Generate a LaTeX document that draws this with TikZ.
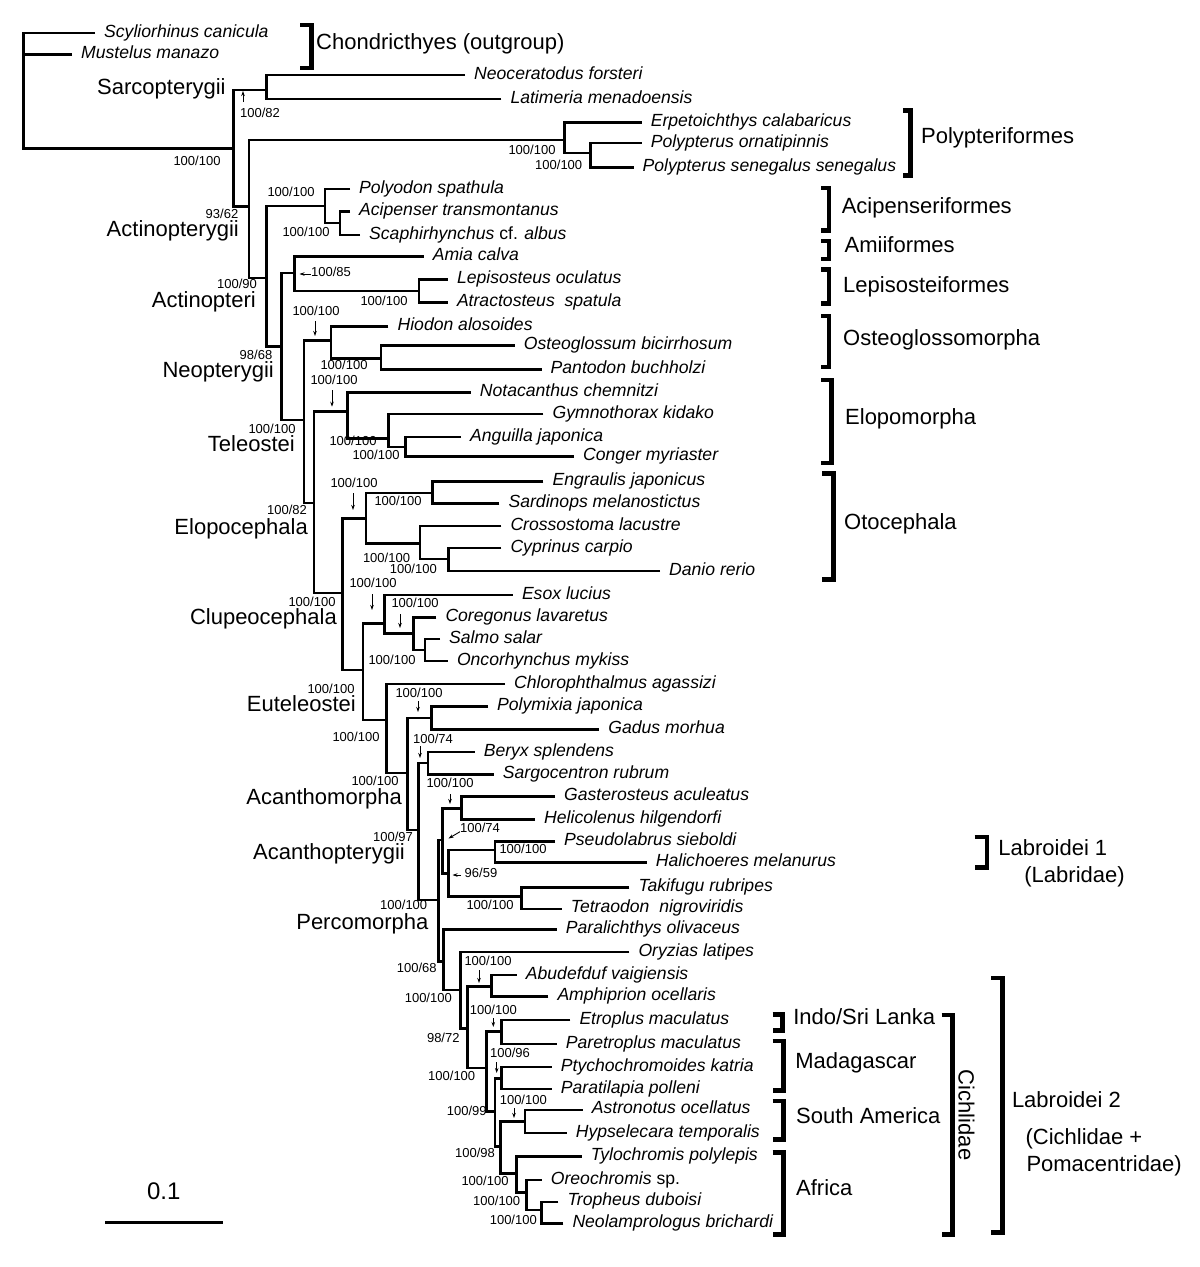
\documentclass[tikz,border=0pt]{standalone}
\usepackage{fontspec}
\setmainfont{Liberation Sans}
\usetikzlibrary{arrows.meta}
\begin{document}
\begin{tikzpicture}[x=1pt,y=-1pt,
  branch/.style={line width=2.5pt, line join=miter},
  brk/.style={line width=4.6pt, line join=miter},
  tipl/.style={anchor=mid west, inner sep=0pt, xshift=9pt, yshift=-1.5pt, font=\fontsize{17.6}{17.6}\selectfont\itshape},
  bs/.style={anchor=mid, inner sep=0pt, font=\fontsize{13}{13}\selectfont},
  clade/.style={anchor=mid east, inner sep=0pt, yshift=-2pt, font=\fontsize{22}{22}\selectfont},
  grp/.style={anchor=mid west, inner sep=0pt, font=\fontsize{22}{22}\selectfont},
  sarr/.style={-{Stealth[length=5pt,width=3.5pt]}, line width=0.9pt}]
\useasboundingbox (0,0) rectangle (1200,1267);
\fill[white] (0,0) rectangle (1200,1267);

% ---------- internal nodes ----------
\coordinate (R) at (23.5,90);
\coordinate (Ost) at (233.4,148.3);
\coordinate (Sarc) at (266.7,90);
\coordinate (Actg) at (248.8,206.7);
\coordinate (Poly) at (564.5,140);
\coordinate (PP) at (590.6,153);
\coordinate (Acti) at (266.7,278);
\coordinate (Acip) at (325,206);
\coordinate (AS) at (340,223);
\coordinate (Neop) at (281.3,346.7);
\coordinate (Hol) at (294.7,273);
\coordinate (Lep) at (419,291);
\coordinate (Tel) at (304.2,420);
\coordinate (Ost2) at (331,340.7);
\coordinate (OP) at (380.8,358.3);
\coordinate (Elc) at (313.8,503);
\coordinate (Elo) at (347.5,411.7);
\coordinate (Ang) at (388.4,438.3);
\coordinate (AC) at (405.7,447);
\coordinate (Clu) at (342.5,593);
\coordinate (Oto) at (366.2,518.3);
\coordinate (Clf) at (432.5,493);
\coordinate (Osf) at (419.8,543.3);
\coordinate (CD) at (448.5,559);
\coordinate (Eut) at (362.8,670);
\coordinate (Pro) at (384.6,623.3);
\coordinate (Sal) at (413.3,633.3);
\coordinate (SO) at (424.8,650);
\coordinate (Neo) at (386.5,720);
\coordinate (Acm) at (407.6,773);
\coordinate (PG) at (431.3,718);
\coordinate (Acp) at (418.3,830);
\coordinate (Hc) at (427.9,763);
\coordinate (Per) at (438.3,900);
\coordinate (P1) at (442.7,840);
\coordinate (Gas) at (461.7,808.3);
\coordinate (P2) at (448.3,873.3);
\coordinate (Lab) at (495,850);
\coordinate (Tet) at (521.7,896.7);
\coordinate (P3) at (443.3,961.7);
\coordinate (P4) at (460.7,990);
\coordinate (P5) at (467.3,1028.3);
\coordinate (Pom) at (491.7,986.7);
\coordinate (Cic) at (486.7,1068);
\coordinate (Etr) at (501.7,1031.7);
\coordinate (CA) at (495,1111.7);
\coordinate (Mad) at (501.7,1078.3);
\coordinate (CB) at (500.7,1146.7);
\coordinate (SA) at (525,1121.7);
\coordinate (Afr) at (516.7,1173.3);
\coordinate (Pse) at (526.7,1192.7);
\coordinate (TN) at (541.7,1210);

% ---------- tips ----------
\coordinate (t1) at (95,33);
\coordinate (t2) at (72,54.3);
\coordinate (t3) at (465,75);
\coordinate (t4) at (501.3,99);
\coordinate (t5) at (641.6,122.4);
\coordinate (t6) at (641.6,142.9);
\coordinate (t7) at (633.5,167.3);
\coordinate (t8) at (350,189);
\coordinate (t9) at (350,211.7);
\coordinate (t10) at (360,235);
\coordinate (t11) at (423.6,256.7);
\coordinate (t12) at (447.8,279.3);
\coordinate (t13) at (447.8,302.7);
\coordinate (t14) at (388.4,326.7);
\coordinate (t15) at (514.7,345.7);
\coordinate (t16) at (541.5,369.3);
\coordinate (t17) at (470.7,392.7);
\coordinate (t18) at (543.4,414);
\coordinate (t19) at (461,437);
\coordinate (t20) at (574,456.7);
\coordinate (t21) at (543.4,481.7);
\coordinate (t22) at (499.4,503.3);
\coordinate (t23) at (501.3,526);
\coordinate (t24) at (501.3,548);
\coordinate (t25) at (660,571);
\coordinate (t26) at (512.8,595);
\coordinate (t27) at (436.3,617.7);
\coordinate (t28) at (440,639);
\coordinate (t29) at (447.8,661);
\coordinate (t30) at (505,684);
\coordinate (t31) at (488,706.7);
\coordinate (t32) at (599.2,729.3);
\coordinate (t33) at (474.6,752);
\coordinate (t34) at (493.7,774.7);
\coordinate (t35) at (555,796.6);
\coordinate (t36) at (535,819.3);
\coordinate (t37) at (555,841.6);
\coordinate (t38) at (646.7,862.6);
\coordinate (t39) at (629.3,887.4);
\coordinate (t40) at (561.7,908.8);
\coordinate (t41) at (556.7,929.5);
\coordinate (t42) at (629.3,952.2);
\coordinate (t43) at (516.7,974.9);
\coordinate (t44) at (548.3,996.7);
\coordinate (t45) at (570.3,1020.2);
\coordinate (t46) at (556.7,1044.2);
\coordinate (t47) at (551.7,1066.9);
\coordinate (t48) at (551.7,1089.2);
\coordinate (t49) at (582.7,1109.8);
\coordinate (t50) at (566.7,1132.9);
\coordinate (t51) at (581.7,1156.4);
\coordinate (t52) at (541.7,1179.9);
\coordinate (t53) at (558.3,1201.8);
\coordinate (t54) at (563.3,1223.3);

% ---------- branches ----------
\draw[branch] (t1) -| (R);
\draw[branch] (t2) -| (R);
\draw[branch] (Ost) -| (R);
\draw[branch] (Sarc) -| (Ost);
\draw[branch] (Actg) -| (Ost);
\draw[branch] (t3) -| (Sarc);
\draw[branch] (t4) -| (Sarc);
\draw[branch] (Poly) -| (Actg);
\draw[branch] (Acti) -| (Actg);
\draw[branch] (t5) -| (Poly);
\draw[branch] (PP) -| (Poly);
\draw[branch] (t6) -| (PP);
\draw[branch] (t7) -| (PP);
\draw[branch] (Acip) -| (Acti);
\draw[branch] (Neop) -| (Acti);
\draw[branch] (t8) -| (Acip);
\draw[branch] (AS) -| (Acip);
\draw[branch] (t9) -| (AS);
\draw[branch] (t10) -| (AS);
\draw[branch] (Hol) -| (Neop);
\draw[branch] (Tel) -| (Neop);
\draw[branch] (t11) -| (Hol);
\draw[branch] (Lep) -| (Hol);
\draw[branch] (t12) -| (Lep);
\draw[branch] (t13) -| (Lep);
\draw[branch] (Ost2) -| (Tel);
\draw[branch] (Elc) -| (Tel);
\draw[branch] (t14) -| (Ost2);
\draw[branch] (OP) -| (Ost2);
\draw[branch] (t15) -| (OP);
\draw[branch] (t16) -| (OP);
\draw[branch] (Elo) -| (Elc);
\draw[branch] (Clu) -| (Elc);
\draw[branch] (t17) -| (Elo);
\draw[branch] (Ang) -| (Elo);
\draw[branch] (t18) -| (Ang);
\draw[branch] (AC) -| (Ang);
\draw[branch] (t19) -| (AC);
\draw[branch] (t20) -| (AC);
\draw[branch] (Oto) -| (Clu);
\draw[branch] (Eut) -| (Clu);
\draw[branch] (Clf) -| (Oto);
\draw[branch] (Osf) -| (Oto);
\draw[branch] (t21) -| (Clf);
\draw[branch] (t22) -| (Clf);
\draw[branch] (t23) -| (Osf);
\draw[branch] (CD) -| (Osf);
\draw[branch] (t24) -| (CD);
\draw[branch] (t25) -| (CD);
\draw[branch] (Pro) -| (Eut);
\draw[branch] (Neo) -| (Eut);
\draw[branch] (t26) -| (Pro);
\draw[branch] (Sal) -| (Pro);
\draw[branch] (t27) -| (Sal);
\draw[branch] (SO) -| (Sal);
\draw[branch] (t28) -| (SO);
\draw[branch] (t29) -| (SO);
\draw[branch] (t30) -| (Neo);
\draw[branch] (Acm) -| (Neo);
\draw[branch] (PG) -| (Acm);
\draw[branch] (Acp) -| (Acm);
\draw[branch] (t31) -| (PG);
\draw[branch] (t32) -| (PG);
\draw[branch] (Hc) -| (Acp);
\draw[branch] (Per) -| (Acp);
\draw[branch] (t33) -| (Hc);
\draw[branch] (t34) -| (Hc);
\draw[branch] (P1) -| (Per);
\draw[branch] (P3) -| (Per);
\draw[branch] (Gas) -| (P1);
\draw[branch] (P2) -| (P1);
\draw[branch] (t35) -| (Gas);
\draw[branch] (t36) -| (Gas);
\draw[branch] (Lab) -| (P2);
\draw[branch] (Tet) -| (P2);
\draw[branch] (t37) -| (Lab);
\draw[branch] (t38) -| (Lab);
\draw[branch] (t39) -| (Tet);
\draw[branch] (t40) -| (Tet);
\draw[branch] (t41) -| (P3);
\draw[branch] (P4) -| (P3);
\draw[branch] (t42) -| (P4);
\draw[branch] (P5) -| (P4);
\draw[branch] (Pom) -| (P5);
\draw[branch] (Cic) -| (P5);
\draw[branch] (t43) -| (Pom);
\draw[branch] (t44) -| (Pom);
\draw[branch] (Etr) -| (Cic);
\draw[branch] (CA) -| (Cic);
\draw[branch] (t45) -| (Etr);
\draw[branch] (t46) -| (Etr);
\draw[branch] (Mad) -| (CA);
\draw[branch] (CB) -| (CA);
\draw[branch] (t47) -| (Mad);
\draw[branch] (t48) -| (Mad);
\draw[branch] (SA) -| (CB);
\draw[branch] (Afr) -| (CB);
\draw[branch] (t49) -| (SA);
\draw[branch] (t50) -| (SA);
\draw[branch] (t51) -| (Afr);
\draw[branch] (Pse) -| (Afr);
\draw[branch] (t52) -| (Pse);
\draw[branch] (TN) -| (Pse);
\draw[branch] (t53) -| (TN);
\draw[branch] (t54) -| (TN);

% ---------- tip labels ----------
\node[tipl] (n1) at (t1) {Scyliorhinus canicula};
\node[tipl] (n2) at (t2) {Mustelus manazo};
\node[tipl] (n3) at (t3) {Neoceratodus forsteri};
\node[tipl] (n4) at (t4) {Latimeria menadoensis};
\node[tipl] (n5) at (t5) {Erpetoichthys calabaricus};
\node[tipl] (n6) at (t6) {Polypterus ornatipinnis};
\node[tipl] (n7) at (t7) {Polypterus senegalus senegalus};
\node[tipl] (n8) at (t8) {Polyodon spathula};
\node[tipl] (n9) at (t9) {Acipenser transmontanus};
\node[tipl] (n10) at (t10) {Scaphirhynchus {\upshape cf.} albus};
\node[tipl] (n11) at (t11) {Amia calva};
\node[tipl] (n12) at (t12) {Lepisosteus oculatus};
\node[tipl] (n13) at (t13) {Atractosteus\ \ spatula};
\node[tipl] (n14) at (t14) {Hiodon alosoides};
\node[tipl] (n15) at (t15) {Osteoglossum bicirrhosum};
\node[tipl] (n16) at (t16) {Pantodon buchholzi};
\node[tipl] (n17) at (t17) {Notacanthus chemnitzi};
\node[tipl] (n18) at (t18) {Gymnothorax kidako};
\node[tipl] (n19) at (t19) {Anguilla japonica};
\node[tipl] (n20) at (t20) {Conger myriaster};
\node[tipl] (n21) at (t21) {Engraulis japonicus};
\node[tipl] (n22) at (t22) {Sardinops melanostictus};
\node[tipl] (n23) at (t23) {Crossostoma lacustre};
\node[tipl] (n24) at (t24) {Cyprinus carpio};
\node[tipl] (n25) at (t25) {Danio rerio};
\node[tipl] (n26) at (t26) {Esox lucius};
\node[tipl] (n27) at (t27) {Coregonus lavaretus};
\node[tipl] (n28) at (t28) {Salmo salar};
\node[tipl] (n29) at (t29) {Oncorhynchus mykiss};
\node[tipl] (n30) at (t30) {Chlorophthalmus agassizi};
\node[tipl] (n31) at (t31) {Polymixia japonica};
\node[tipl] (n32) at (t32) {Gadus morhua};
\node[tipl] (n33) at (t33) {Beryx splendens};
\node[tipl] (n34) at (t34) {Sargocentron rubrum};
\node[tipl] (n35) at (t35) {Gasterosteus aculeatus};
\node[tipl] (n36) at (t36) {Helicolenus hilgendorfi};
\node[tipl] (n37) at (t37) {Pseudolabrus sieboldi};
\node[tipl] (n38) at (t38) {Halichoeres melanurus};
\node[tipl] (n39) at (t39) {Takifugu rubripes};
\node[tipl] (n40) at (t40) {Tetraodon\ \ nigroviridis};
\node[tipl] (n41) at (t41) {Paralichthys olivaceus};
\node[tipl] (n42) at (t42) {Oryzias latipes};
\node[tipl] (n43) at (t43) {Abudefduf vaigiensis};
\node[tipl] (n44) at (t44) {Amphiprion ocellaris};
\node[tipl] (n45) at (t45) {Etroplus maculatus};
\node[tipl] (n46) at (t46) {Paretroplus maculatus};
\node[tipl] (n47) at (t47) {Ptychochromoides katria};
\node[tipl] (n48) at (t48) {Paratilapia polleni};
\node[tipl] (n49) at (t49) {Astronotus ocellatus};
\node[tipl] (n50) at (t50) {Hypselecara temporalis};
\node[tipl] (n51) at (t51) {Tylochromis polylepis};
\node[tipl] (n52) at (t52) {Oreochromis {\upshape sp.}};
\node[tipl] (n53) at (t53) {Tropheus duboisi};
\node[tipl] (n54) at (t54) {Neolamprologus brichardi};

% ---------- clade names on the tree ----------
\node[clade] (c1) at (225.8,90) {Sarcopterygii};
\node[clade] (c2) at (239,232) {Actinopterygii};
\node[clade] (c3) at (256,303) {Actinopteri};
\node[clade] (c4) at (274,373) {Neopterygii};
\node[clade] (c5) at (295,447) {Teleostei};
\node[clade] (c6) at (308,530) {Elopocephala};
\node[clade] (c7) at (337,620) {Clupeocephala};
\node[clade] (c8) at (356,707) {Euteleostei};
\node[clade] (c9) at (402,799.5) {Acanthomorpha};
\node[clade] (c10) at (405,855) {Acanthopterygii};
\node[clade] (c11) at (428.6,925) {Percomorpha};

% ---------- support values ----------
\node[bs] (s1) at (260,115) {100/82};
\node[bs] (s2) at (197,163) {100/100};
\node[bs] (s3) at (532,151.7) {100/100};
\node[bs] (s4) at (558.7,166.7) {100/100};
\node[bs] (s5) at (222,216) {93/62};
\node[bs] (s6) at (291,194) {100/100};
\node[bs] (s7) at (306,234) {100/100};
\node[bs] (s8) at (237,286) {100/90};
\node[bs] (s9) at (331,274) {100/85};
\node[bs] (s10) at (384,302.7) {100/100};
\node[bs] (s11) at (316,312.7) {100/100};
\node[bs] (s12) at (256,357) {98/68};
\node[bs] (s13) at (344,366.7) {100/100};
\node[bs] (s14) at (334,381.7) {100/100};
\node[bs] (s15) at (272,431) {100/100};
\node[bs] (s16) at (353,443.3) {100/100};
\node[bs] (s17) at (376,456.7) {100/100};
\node[bs] (s18) at (354,485) {100/100};
\node[bs] (s19) at (287,512) {100/82};
\node[bs] (s20) at (398,503.3) {100/100};
\node[bs] (s21) at (386.5,560) {100/100};
\node[bs] (s22) at (413.3,571) {100/100};
\node[bs] (s23) at (373,585) {100/100};
\node[bs] (s24) at (312,604) {100/100};
\node[bs] (s25) at (415,605) {100/100};
\node[bs] (s26) at (392,661.7) {100/100};
\node[bs] (s27) at (331,690.5) {100/100};
\node[bs] (s28) at (419,695) {100/100};
\node[bs] (s29) at (356,739.3) {100/100};
\node[bs] (s30) at (433,741) {100/74};
\node[bs] (s31) at (375,783) {100/100};
\node[bs] (s32) at (450,785) {100/100};
\node[bs] (s33) at (393,839) {100/97};
\node[bs] (s34) at (480,830) {100/74};
\node[bs] (s35) at (523,850.7) {100/100};
\node[bs] (s36) at (481,875) {96/59};
\node[bs] (s37) at (490,906.7) {100/100};
\node[bs] (s38) at (403.7,907.3) {100/100};
\node[bs] (s39) at (416.7,970) {100/68};
\node[bs] (s40) at (488,963) {100/100};
\node[bs] (s41) at (428.3,1000) {100/100};
\node[bs] (s42) at (493.3,1011.7) {100/100};
\node[bs] (s43) at (443.3,1040) {98/72};
\node[bs] (s44) at (451.7,1078) {100/100};
\node[bs] (s45) at (510,1055) {100/96};
\node[bs] (s46) at (466.7,1113.3) {100/99};
\node[bs] (s47) at (523.3,1101.7) {100/100};
\node[bs] (s48) at (475,1155) {100/98};
\node[bs] (s49) at (485,1183.3) {100/100};
\node[bs] (s50) at (496.7,1203.3) {100/100};
\node[bs] (s51) at (513.3,1221.7) {100/100};

% ---------- small pointer arrows ----------
\draw[sarr] (243,102) -- (243,91);
\draw[sarr] (310.8,274) -- (299.5,274);
\draw[sarr] (315,321) -- (315,336);
\draw[sarr] (332,390) -- (332,406.7);
\draw[sarr] (353,493) -- (353,510);
\draw[sarr] (372,594) -- (372,610);
\draw[sarr] (400,614) -- (400,628);
\draw[sarr] (418,701) -- (418,712);
\draw[sarr] (420,746) -- (420,758);
\draw[sarr] (450,794) -- (450,804);
\draw[sarr] (460,831.7) -- (448.5,838.5);
\draw[sarr] (461,875) -- (452.5,875);
\draw[sarr] (479,970) -- (479,983);
\draw[sarr] (493.3,1018) -- (493.3,1027);
\draw[sarr] (496.7,1062) -- (496.7,1073);
\draw[sarr] (514,1108) -- (514,1118);

% ---------- group brackets ----------
\draw[brk] (300.4,25) -- (311.5,25) -- (311.5,68) -- (300.4,68);
\node[grp] (g1) at (316,46.7) {Chondricthyes (outgroup)};
\draw[brk] (902.9,110.5) -- (910.7,110.5) -- (910.7,175.3) -- (902.9,175.3);
\node[grp] (g2) at (921,140.8) {Polypteriformes};
\draw[brk] (821.2,188) -- (829.1,188) -- (829.1,230.4) -- (821.2,230.4);
\node[grp] (g3) at (841.6,211) {Acipenseriformes};
\draw[brk] (821.2,241.1) -- (829.1,241.1) -- (829.1,258.9) -- (821.2,258.9);
\node[grp] (g4) at (844.5,249.8) {Amiiformes};
\draw[brk] (821.2,269.6) -- (829.1,269.6) -- (829.1,303.7) -- (821.2,303.7);
\node[grp] (g5) at (843,289.8) {Lepisosteiformes};
\draw[brk] (821.2,315.8) -- (829.1,315.8) -- (829.1,367.1) -- (821.2,367.1);
\node[grp] (g6) at (843,342.9) {Osteoglossomorpha};
\draw[brk] (821.2,379.9) -- (831.2,379.9) -- (831.2,463) -- (821.2,463);
\node[grp] (g7) at (845,421.6) {Elopomorpha};
\draw[brk] (822.4,473.7) -- (833.2,473.7) -- (833.2,579.3) -- (822.4,579.3);
\node[grp] (g8) at (844,526.5) {Otocephala};
\draw[brk] (974.7,836.9) -- (986.8,836.9) -- (986.8,867.3) -- (974.7,867.3);
\node[grp] (g9) at (998.2,853.1) {Labroidei 1};
\node[grp] (g10) at (1024.2,880) {(Labridae)};
\draw[brk] (772.5,1014.3) -- (782.6,1014.3) -- (782.6,1030.3) -- (772.5,1030.3);
\node[grp] (g11) at (793.1,1022.3) {Indo/Sri Lanka};
\draw[brk] (772.5,1041.1) -- (783.7,1041.1) -- (783.7,1090.2) -- (772.5,1090.2);
\node[grp] (g12) at (795.2,1065.6) {Madagascar};
\draw[brk] (772.5,1100.9) -- (783.7,1100.9) -- (783.7,1139.7) -- (772.5,1139.7);
\node[grp] (g13) at (796,1121.3) {South America};
\draw[brk] (772.5,1152.5) -- (783.7,1152.5) -- (783.7,1234.6) -- (772.5,1234.6);
\node[grp] (g14) at (796,1192.7) {Africa};
\draw[brk] (941.7,1015.1) -- (952.6,1015.1) -- (952.6,1234.6) -- (941.7,1234.6);
\node[inner sep=0pt, font=\fontsize{22}{22}\selectfont, rotate=-90] (g15) at (966.4,1115.2) {Cichlidae};
\draw[brk] (991.2,978) -- (1002.5,978) -- (1002.5,1232.5) -- (991.2,1232.5);
\node[grp] (g16) at (1011.8,1104.8) {Labroidei 2};
\node[grp] (g17) at (1025.4,1142) {(Cichlidae +};
\node[grp] (g18) at (1026.3,1168.8) {Pomacentridae)};

% ---------- scale bar ----------
\coordinate (sb1) at (105.2,1222.3);
\coordinate (sb2) at (223.1,1222.3);
\draw[line width=2.5pt] (sb1) -- (sb2);
\node[inner sep=0pt, anchor=mid, font=\fontsize{24}{24}\selectfont] (sbl) at (163.8,1197) {0.1};
\end{tikzpicture}
\end{document}
